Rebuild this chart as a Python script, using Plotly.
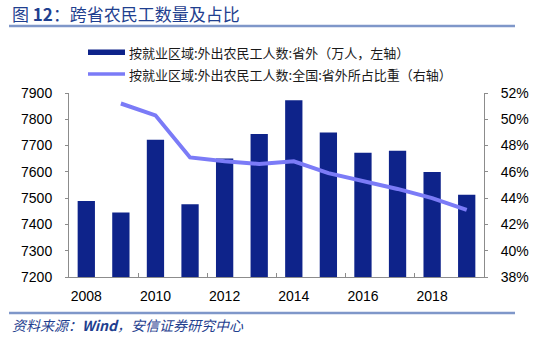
import plotly.graph_objects as go

years = [2008, 2009, 2010, 2011, 2012, 2013, 2014, 2015, 2016, 2017, 2018, 2019]
outside_workers = [7489, 7445, 7722, 7477, 7651, 7744, 7872, 7750, 7673, 7680, 7599, 7513]
outside_share = [None, 51.2, 50.3, 47.1, 46.8, 46.6, 46.8, 45.9, 45.3, 44.7, 44.0, 43.1]
x_tick_years = [2008, 2010, 2012, 2014, 2016, 2018]
boundary_ticks = [2009.5, 2011.5, 2013.5, 2015.5, 2017.5]

name_bar = "按就业区域:外出农民工人数:省外（万人，左轴）"
name_line = "按就业区域:外出农民工人数:全国:省外所占比重（右轴）"
title_text = "图 <b>12</b>：跨省农民工数量及占比"
source_text = "<i>资料来源：<b>Wind</b>，安信证券研究中心</i>"

BAR_C = "#0E238A"
LINE_C = "#7B7BF7"
BLUE_T = "#1F3F8F"
RULE_C = "#7F97C9"
AX_C = "#8C8C8C"

fig = go.Figure()
fig.add_trace(go.Bar(x=years, y=outside_workers, width=0.5, marker_color=BAR_C,
                     marker_line_width=0, name=name_bar, showlegend=False))
fig.add_trace(go.Scatter(x=years, y=outside_share, yaxis="y2", mode="lines",
                         line=dict(color=LINE_C, width=4), name=name_line,
                         showlegend=False, connectgaps=False))

L, R, T, B = 69, 66, 93, 63
W, H = 550, 340
pw = W - L - R
ph = H - T - B

def px(x):
    return (x - L) / pw

def py(y):
    return (H - B - y) / ph

shapes = []
shapes.append(dict(type="line", xref="paper", yref="paper", x0=px(9), x1=px(515),
                   y0=py(26), y1=py(26), line=dict(color=RULE_C, width=2.5)))
shapes.append(dict(type="line", xref="paper", yref="paper", x0=px(9), x1=px(515),
                   y0=py(313), y1=py(313), line=dict(color=RULE_C, width=2.5)))
shapes.append(dict(type="rect", xref="paper", yref="paper", x0=px(88), x1=px(125),
                   y0=py(49.5), y1=py(55), fillcolor=BAR_C, line=dict(width=0)))
shapes.append(dict(type="line", xref="paper", yref="paper", x0=px(88), x1=px(125),
                   y0=py(74), y1=py(74), line=dict(color=LINE_C, width=3.5)))

annotations = [
    dict(text=title_text, xref="paper", yref="paper", x=px(10), y=py(13),
         xanchor="left", yanchor="middle", showarrow=False,
         font=dict(family="Noto Sans CJK SC", size=17, color=BLUE_T)),
    dict(text=source_text, xref="paper", yref="paper", x=px(10), y=py(325),
         xanchor="left", yanchor="middle", showarrow=False,
         font=dict(family="Noto Sans CJK SC", size=14, color=BLUE_T)),
    dict(text=name_bar, xref="paper", yref="paper", x=px(127), y=py(52),
         xanchor="left", yanchor="middle", showarrow=False,
         font=dict(family="Noto Sans CJK SC", size=13, color="#1a1a1a")),
    dict(text=name_line, xref="paper", yref="paper", x=px(127), y=py(74),
         xanchor="left", yanchor="middle", showarrow=False,
         font=dict(family="Noto Sans CJK SC", size=13, color="#1a1a1a")),
]

tickfont = dict(family="Arial, Liberation Sans", size=14, color="#000000")

fig.update_layout(
    width=W, height=H,
    margin=dict(l=L, r=R, t=T, b=B, pad=0),
    paper_bgcolor="white", plot_bgcolor="white",
    showlegend=False,
    shapes=shapes, annotations=annotations,
    xaxis=dict(range=[2007.5, 2019.5], tickvals=x_tick_years,
               ticktext=[str(v) for v in x_tick_years], ticks="",
               showline=True, linecolor=AX_C, linewidth=1, showgrid=False,
               zeroline=False, tickfont=tickfont, ticklabelstandoff=6),
    xaxis2=dict(overlaying="x", matches="x", anchor="y", side="bottom",
                tickvals=boundary_ticks, ticks="inside", ticklen=4, tickcolor=AX_C,
                showticklabels=False, showline=False, showgrid=False, zeroline=False),
    yaxis=dict(range=[7200, 7900], dtick=100, ticks="outside", ticklen=3,
               tickcolor=AX_C, showline=True, linecolor=AX_C, linewidth=1,
               showgrid=False, zeroline=False, tickfont=tickfont,
               ticklabelstandoff=10),
    yaxis2=dict(range=[38, 52], dtick=2, ticksuffix="%", overlaying="y", side="right",
                anchor="x", ticks="outside", ticklen=3, tickcolor=AX_C,
                showline=True, linecolor=AX_C, linewidth=1, showgrid=False,
                zeroline=False, tickfont=tickfont, ticklabelstandoff=10),
)

fig.add_trace(go.Scatter(x=[None], y=[None], xaxis="x2", showlegend=False,
                         hoverinfo="skip"))

fig.write_html("out.html")
